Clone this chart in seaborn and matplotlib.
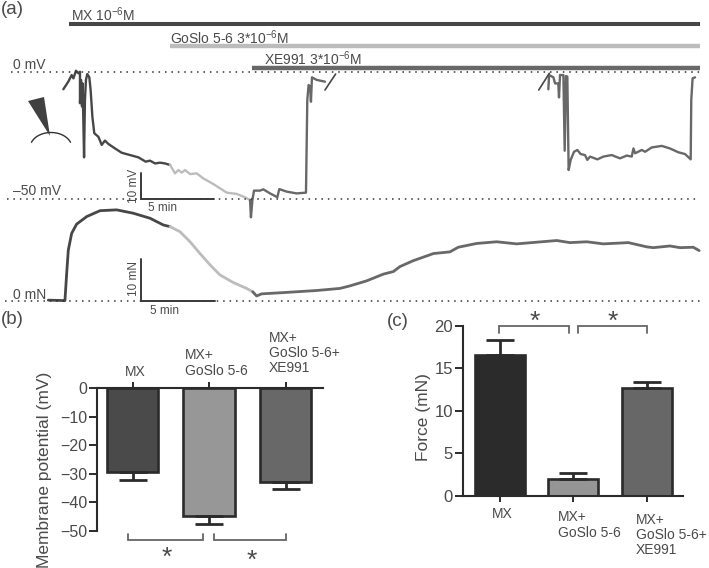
import numpy as np
import pandas as pd
import matplotlib
matplotlib.use("Agg")
import matplotlib.pyplot as plt
import seaborn as sns

sns.set_theme(style="white")
plt.rcParams['font.family'] = ['Liberation Sans', 'DejaVu Sans']
plt.rcParams['mathtext.default'] = 'regular'
plt.rcParams['mathtext.fontset'] = 'custom'
plt.rcParams['mathtext.rm'] = 'Liberation Sans'

TXT = '#4a4a4a'
DARK, LIGHT, MID = '#474747', '#bcbcbc', '#686868'

# ---- panel (a): membrane potential, minutes / mV
v_mx_t = [1.05,1.39,1.62,1.74,1.92,2.08,2.19,2.19,2.26,2.33,2.37,2.47,2.53,2.60,2.69,2.83,2.92,3.04,3.17,3.45,3.68,3.90,4.13,4.59,5.05,5.62,6.19,6.69,6.99,7.33,7.67,8.01,8.36]
v_mx_v = [-6.8,-3.8,-1.2,-2.5,0.5,-0.5,0.1,-12.3,-3.1,-13.6,-4.5,-33.6,-11.0,-3.1,-0.8,-2.1,-7.1,-17.6,-24.1,-25.5,-28.7,-27.0,-28.3,-30.1,-31.8,-32.7,-33.6,-35.3,-34.9,-36.0,-35.7,-36.0,-36.6]
v_go_t = [8.36,8.70,8.93,9.16,9.39,9.73,10.18,10.64,11.32,12.24,12.92,13.49,13.84]
v_go_v = [-36.6,-39.9,-38.6,-39.6,-38.6,-40.2,-39.9,-41.9,-44.1,-47.5,-48.0,-49.3,-50.4]
v_xe_t = [13.84,13.90,14.0,14.11,14.52,14.75,15.21,15.71,15.84,16.35,17.03,17.67,17.76,17.85,17.95,18.01,18.08,18.4,18.97]
v_xe_v = [-50.4,-57.2,-50.4,-46.7,-46.7,-46.2,-47.8,-49.3,-46.1,-47.1,-47.8,-47.5,-11.0,-5.1,-5.8,-11.7,-2.1,-3.1,-3.8]
v_xe2_t = [34.27,34.32,34.62,34.73,34.95,35.0,35.07,35.3,35.39,35.48,35.57,35.66,35.80,36.03,36.26,36.48,36.78,36.94,37.13,37.63,38.04,38.61,39.18,39.64,39.98,40.1,40.21,40.67,40.9,41.35,42.04,42.6,43.17,43.63,44.02,44.06,44.15,44.32]
v_xe2_v = [-6.8,-1.2,-2.1,-4.5,-4.5,-10.0,-1.2,-1.2,-31.0,-1.6,-1.8,-38.6,-34.6,-31.4,-30.7,-32.3,-32.7,-34.6,-33.3,-34.4,-33.3,-32.7,-34.0,-32.9,-33.3,-30.1,-32.0,-30.7,-31.4,-29.7,-29.1,-30.1,-31.6,-32.3,-34.4,-11.0,-2.5,-2.1]
break1_t, break1_v = [18.97, 19.7], [-7.1, -0.8]
break2_t, break2_v = [33.61, 34.34], [-7.1, -0.5]

# ---- panel (a): force, minutes / mN
f_mx_t = [0.02,1.16,1.28,1.39,1.62,1.96,2.65,3.56,4.7,5.84,6.99,7.9,8.36]
f_mx_f = [0.2,0.1,6.6,12.1,16.1,18.3,20.1,21.5,21.7,20.9,19.7,18.1,17.7]
f_go_t = [8.36,9.04,9.73,10.41,11.1,11.78,12.69,13.6,14.02]
f_go_f = [17.7,16.5,14.1,11.3,8.6,6.2,4.4,3.0,2.2]
f_xe_t = [14.02,14.29,14.63,16.12,18.4,20.0,20.68,21.83,22.97,23.65,24.11,25.02,26.4,27.53,28.1,29.36,30.73,32.1,33.47,34.84,35.75,36.9,38.04,39.75,41.0,41.46,42.6,43.29,44.2,44.6]
f_xe_f = [2.2,1.2,1.7,2.0,2.5,3.0,3.6,4.8,6.4,7.0,8.2,9.6,11.3,11.7,12.8,13.7,14.1,13.6,14.0,14.4,13.9,14.1,13.6,13.9,12.9,12.7,13.1,12.7,12.8,12.0]

# ---- panels (b), (c)
mp_labels = ['MX', 'MX+ GoSlo 5-6', 'MX+ GoSlo 5-6+ XE991']
mp_values = [-29.2, -44.8, -32.9]
mp_err_ends = [-32.1, -47.4, -35.2]
mp_colors = ['#4a4a4a', '#979797', '#686868']
force_values = [16.55, 1.96, 12.64]
force_err_ends = [18.3, 2.66, 13.4]
force_colors = ['#2b2b2b', '#959595', '#676767']

W, H = 709, 568
fig = plt.figure(figsize=(W/100, H/100), dpi=100)

def px_axes(x0, y0, x1, y1, **kw):
    return fig.add_axes([x0/W, 1-y1/H, (x1-x0)/W, (y1-y0)/H], **kw)

# trace axes: full figure, time shared
ax_v = px_axes(0, 0, W, H)
ax_f = px_axes(0, 0, W, H)
for a in (ax_v, ax_f):
    a.patch.set_alpha(0)
    a.set_axis_off()
    a.set_xlim(-48/14.6, (W-48)/14.6)
ax_v.set_ylim(-(H-72)/2.54, 72/2.54)
ax_f.set_ylim(-(H-301)/4.2, 301/4.2)

def trace(ax, t, y, c, lw=1.7):
    sns.lineplot(x=t, y=y, ax=ax, color=c, lw=lw, sort=False, estimator=None, legend=False, solid_joinstyle='round')

trace(ax_v, v_mx_t, v_mx_v, DARK)
trace(ax_v, v_go_t, v_go_v, LIGHT)
trace(ax_v, v_xe_t, v_xe_v, MID)
trace(ax_v, v_xe2_t, v_xe2_v, MID)
trace(ax_v, break1_t, break1_v, DARK, 1.2)
trace(ax_v, break2_t, break2_v, DARK, 1.2)
trace(ax_f, f_mx_t, f_mx_f, DARK, 2.0)
trace(ax_f, f_go_t, f_go_f, LIGHT, 2.0)
trace(ax_f, f_xe_t, f_xe_f, MID, 2.0)

# overlay in pixel coordinates for annotations
ov = px_axes(0, 0, W, H)
ov.set_xlim(0, W); ov.set_ylim(H, 0); ov.set_axis_off(); ov.patch.set_alpha(0)
ov.set_zorder(5)

def T(x, y, s, size=10, ha='left', va='center', **kw):
    kw.setdefault('color', TXT)
    ov.text(x, y, s, fontsize=size, ha=ha, va=va, **kw)

# drug bars
ov.plot([69, 700], [24, 24], color=DARK, lw=2.9, solid_capstyle='butt')
ov.plot([170, 700], [46, 46], color=LIGHT, lw=3.2, solid_capstyle='butt')
ov.plot([252, 700], [68, 68], color=MID, lw=3.2, solid_capstyle='butt')
T(71, 15, 'MX 10$^{-6}$M', 10)
T(170, 38, 'GoSlo 5-6 3*10$^{-6}$M', 10)
T(264, 59, 'XE991 3*10$^{-6}$M', 10)

# dotted reference lines
for x0, y in [(11, 72), (7, 199), (5, 301)]:
    ov.plot([x0, 700], [y, y], color='#333333', lw=1.1, ls=(0, (1, 3.2)))
T(13, 65, '0 mV', 10)
T(13, 191, '\u201350 mV', 10)
T(13, 295, '0 mN', 10)

# scale bars
ov.plot([141, 141, 214], [173, 199, 199], color='#3a3a3a', lw=1.4, solid_joinstyle='miter')
ov.plot([141, 141, 215], [259, 301, 301], color='#3a3a3a', lw=1.4, solid_joinstyle='miter')
T(134, 186, '10 mV', 8.5, ha='center', rotation=90)
T(134, 279, '10 mN', 8.5, ha='center', rotation=90)
T(162, 208, '5 min', 8.5, ha='center')
T(165, 311, '5 min', 8.5, ha='center')

# pipette and cell
ov.fill([28, 44, 50], [101, 97, 136], color='#404040', lw=0)
th = np.linspace(np.pi*1.12, np.pi*1.88, 40)
ov.plot(51 + 21*np.cos(th), 148 + 15.5*np.sin(th), color='#333333', lw=1.0)

# panel letters
T(1, 10, '(a)', 13.5)
T(1, 320, '(b)', 13.5)
T(387, 321, '(c)', 13.5)

# ---- panel (b)
ax_b = px_axes(97, 388.3, 323, 531)
dfb = pd.DataFrame({'cond': mp_labels, 'mV': mp_values})
sns.barplot(data=dfb, x='cond', y='mV', hue='cond', palette=mp_colors, order=mp_labels, hue_order=mp_labels,
            errorbar=None, width=0.667, dodge=False, saturation=1, legend=False,
            edgecolor='#2b2b2b', linewidth=1.9, ax=ax_b)
ax_b.set_xlim(-35.5/76.5, (323-132.5)/76.5)
ax_b.set_ylim(-50, 0)
for i, (v, e) in enumerate(zip(mp_values, mp_err_ends)):
    ax_b.errorbar(i, v, yerr=[[v-e], [0]], color='#2b2b2b', lw=2.0, capsize=10, capthick=2.0, clip_on=False, zorder=4)
ax_b.xaxis.tick_top()
ax_b.set_xticks(range(3)); ax_b.set_xticklabels([])
ax_b.set_yticks([0, -10, -20, -30, -40, -50])
ax_b.set_yticklabels(['0', '\u221210', '\u221220', '\u221230', '\u221240', '\u221250'], fontsize=11.5, color=TXT)
ax_b.tick_params(axis='y', length=5.5, width=1.4, color='#2b2b2b', pad=1.5, left=True)
ax_b.tick_params(axis='x', length=4, width=1.4, color='#2b2b2b', top=True, bottom=False)
ax_b.set_xlabel(''); ax_b.set_ylabel('Membrane potential (mV)', fontsize=12.5, color=TXT)
ax_b.yaxis.set_label_coords((52-97)/226, (531-470)/142.7)
for s in ['right', 'bottom']:
    ax_b.spines[s].set_visible(False)
for s in ['left', 'top']:
    ax_b.spines[s].set_linewidth(1.5); ax_b.spines[s].set_color('#2b2b2b')
ax_b.patch.set_alpha(0)

T(135, 372, 'MX', 10, ha='center')
T(185, 363, 'MX+\nGoSlo 5-6', 10, linespacing=1.1)
T(269, 353, 'MX+\nGoSlo 5-6+\nXE991', 10, linespacing=1.1)

def bracket(x0, x1, y_arm, y_bar, c='#666666'):
    ov.plot([x0, x0, x1, x1], [y_arm, y_bar, y_bar, y_arm], color=c, lw=1.3, solid_joinstyle='miter')

bracket(128, 203, 534, 540)
bracket(214, 286, 534, 540)
T(167, 558, '*', 19, ha='center')
T(252, 561, '*', 19, ha='center')

# ---- panel (c)
ax_c = px_axes(463.3, 325.7, 682.7, 496)
dfc = pd.DataFrame({'cond': mp_labels, 'mN': force_values})
sns.barplot(data=dfc, x='cond', y='mN', hue='cond', palette=force_colors, order=mp_labels, hue_order=mp_labels,
            errorbar=None, width=0.68, dodge=False, saturation=1, legend=False,
            edgecolor='#2b2b2b', linewidth=1.9, ax=ax_c)
ax_c.set_xlim(-(499.7-463.3)/73.6, (682.7-499.7)/73.6)
ax_c.set_ylim(0, 20)
for i, (v, e) in enumerate(zip(force_values, force_err_ends)):
    ax_c.errorbar(i, v, yerr=[[0], [e-v]], color='#2b2b2b', lw=2.0, capsize=10, capthick=2.0, clip_on=False, zorder=1)
ax_c.set_xticks(range(3)); ax_c.set_xticklabels([])
ax_c.set_yticks([0, 5, 10, 15, 20])
ax_c.set_yticklabels(['0', '5', '10', '15', '20'], fontsize=12, color=TXT)
ax_c.tick_params(axis='y', length=5.5, width=1.4, color='#2b2b2b', pad=2, left=True)
ax_c.tick_params(axis='x', length=4.5, width=1.4, color='#2b2b2b', bottom=True)
ax_c.set_xlabel(''); ax_c.set_ylabel('Force (mN)', fontsize=12.5, color=TXT)
ax_c.yaxis.set_label_coords((431-463.3)/219.4, (496-417)/170.3)
for s in ['right', 'top']:
    ax_c.spines[s].set_visible(False)
for s in ['left', 'bottom']:
    ax_c.spines[s].set_linewidth(1.5); ax_c.spines[s].set_color('#2b2b2b')
ax_c.patch.set_alpha(0)

T(502, 514, 'MX', 10, ha='center')
T(558, 525, 'MX+\nGoSlo 5-6', 10, linespacing=1.1)
T(636, 535, 'MX+\nGoSlo 5-6+\nXE991', 10, linespacing=1.1)

bracket(499.3, 568.7, 333, 326)
bracket(578.3, 647.3, 333, 326)
T(535, 322, '*', 19, ha='center')
T(613, 322, '*', 19, ha='center')

fig.savefig('out.png', dpi=100)
